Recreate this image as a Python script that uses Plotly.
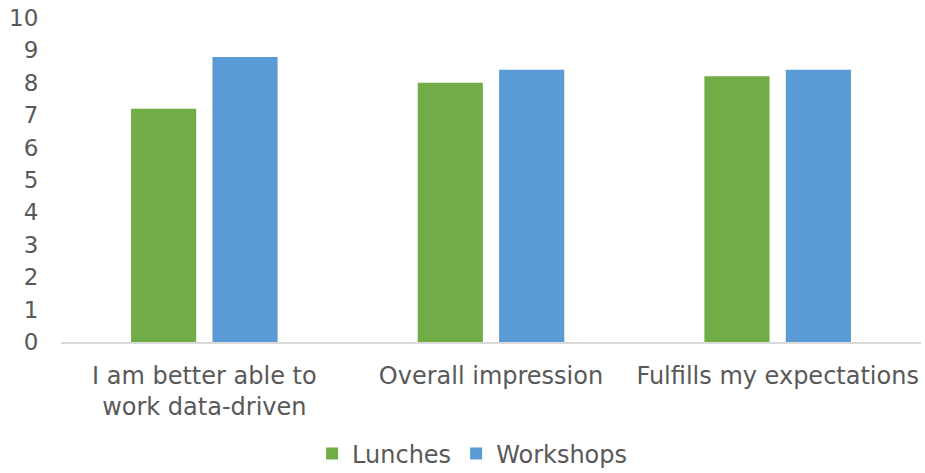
import plotly.graph_objects as go

categories = ["I am better able to<br>work data-driven", "Overall impression", "Fulfills my expectations"]
lunches = [7.2, 8.0, 8.2]
workshops = [8.8, 8.4, 8.4]
y_ticks = list(range(0, 11))

font_family = "DejaVu Sans, Verdana, sans-serif"
text_color = "#595959"

fig = go.Figure()
fig.add_trace(go.Bar(name="Lunches", x=categories, y=lunches, marker_color="#70AD47",
                     marker_line_width=0))
fig.add_trace(go.Bar(name="Workshops", x=categories, y=workshops, marker_color="#5B9BD5",
                     marker_line_width=0))

fig.update_layout(
    width=925, height=473,
    margin=dict(l=61, r=4, t=18, b=131, autoexpand=False),
    paper_bgcolor="white", plot_bgcolor="white",
    barmode="group", bargap=0.432, bargroupgap=0.2,
    font=dict(family=font_family, size=24, color=text_color),
    showlegend=True,
    legend=dict(orientation="h", x=0.478, xanchor="center", xref="paper",
                y=0.088, yanchor="top", yref="container",
                font=dict(size=24, color=text_color),
                itemwidth=30, traceorder="normal"),
    xaxis=dict(showgrid=False, showline=True, linecolor="#D9D9D9", linewidth=2,
               automargin=False, ticks="", ticklabelstandoff=11,
               tickfont=dict(size=24, color=text_color)),
    yaxis=dict(range=[0, 10], tickvals=y_ticks, showgrid=False, zeroline=False,
               showline=False, automargin=False, ticks="outside", ticklen=17,
               tickcolor="rgba(0,0,0,0)", tickfont=dict(size=23, color=text_color)),
)

fig.write_html("out.html")
